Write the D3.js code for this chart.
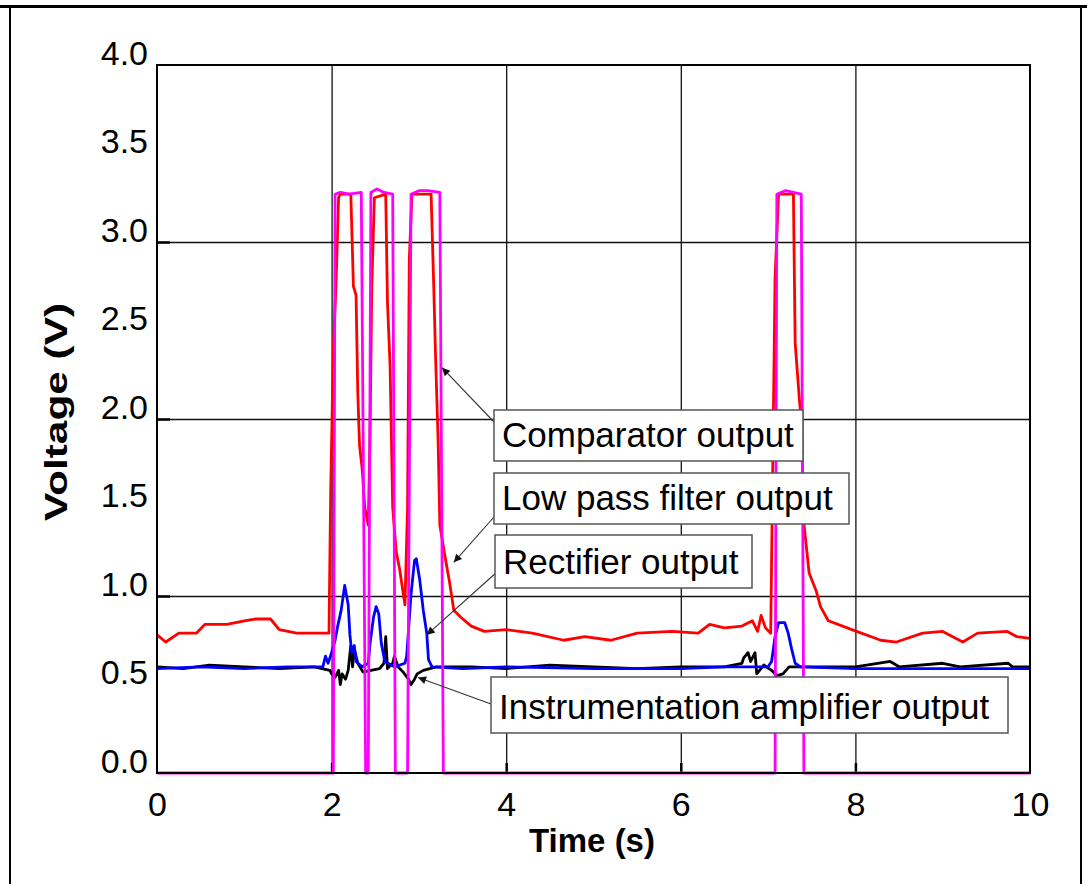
<!DOCTYPE html>
<html>
<head>
<meta charset="utf-8">
<script src="https://cdn.jsdelivr.net/npm/d3@7"></script>
<style>
  body { margin: 0; background: #fff; }
  svg { display: block; font-family: "Liberation Sans", Arial, sans-serif; }
</style>
</head>
<body>
<svg id="chart" width="1087" height="884"></svg>
<script>
// values: [time (s), voltage (V)]
var comparator = [[0,0],[2.02,0],[2.04,3.27],[2.1,3.28],[2.2,3.27],[2.34,3.28],[2.39,0],[2.42,0],
    [2.45,3.28],[2.52,3.30],[2.6,3.28],[2.70,3.27],[2.73,0],[2.87,0],[2.91,3.27],[3.0,3.29],
    [3.1,3.29],[3.24,3.28],[3.28,0],[7.08,0],[7.10,3.27],[7.2,3.29],[7.38,3.27],[7.41,0],[10,0]];

var lowPass = [[0,0.78],[0.1,0.74],[0.25,0.79],[0.45,0.79],[0.55,0.84],[0.8,0.84],[1.0,0.86],
    [1.12,0.87],[1.3,0.87],[1.4,0.81],[1.6,0.79],[1.97,0.79],[1.99,1.6],[2.02,2.4],[2.05,2.75],
    [2.08,3.25],[2.1,3.27],[2.22,3.27],[2.25,2.75],[2.28,2.7],[2.30,2.15],[2.32,1.85],[2.35,1.72],
    [2.38,1.5],[2.42,1.40],[2.44,1.9],[2.46,2.75],[2.49,3.25],[2.62,3.27],[2.64,2.66],[2.67,2.3],
    [2.70,1.5],[2.74,1.25],[2.78,1.15],[2.84,0.95],[2.87,1.5],[2.89,2.9],[2.92,3.27],[3.14,3.27],
    [3.17,2.75],[3.19,2.37],[3.22,1.88],[3.24,1.4],[3.30,1.22],[3.35,1.08],[3.40,0.92],[3.48,0.88],
    [3.6,0.83],[3.75,0.80],[4.0,0.81],[4.3,0.79],[4.66,0.75],[4.9,0.77],[5.2,0.75],[5.5,0.79],
    [5.9,0.80],[6.2,0.79],[6.33,0.84],[6.5,0.82],[6.7,0.83],[6.82,0.86],[6.88,0.80],[6.92,0.89],
    [6.97,0.82],[7.03,0.79],[7.05,1.6],[7.08,2.8],[7.12,3.27],[7.29,3.27],[7.31,2.43],[7.36,2.1],
    [7.38,2.0],[7.41,1.41],[7.47,1.13],[7.55,1.03],[7.6,0.94],[7.69,0.86],[7.96,0.81],[8.29,0.75],
    [8.47,0.74],[8.77,0.79],[9.0,0.80],[9.23,0.74],[9.4,0.79],[9.74,0.80],[9.85,0.77],[10,0.76]];

var rectifier = [[0,0.59],[0.5,0.60],[1.0,0.59],[1.5,0.60],[1.9,0.60],[1.93,0.66],[1.96,0.62],
    [2.0,0.68],[2.04,0.75],[2.07,0.83],[2.11,0.92],[2.15,1.06],[2.19,0.95],[2.21,0.78],[2.23,0.68],
    [2.26,0.72],[2.28,0.63],[2.35,0.60],[2.42,0.62],[2.44,0.73],[2.48,0.88],[2.51,0.94],[2.54,0.90],
    [2.57,0.73],[2.61,0.63],[2.72,0.60],[2.84,0.62],[2.86,0.66],[2.91,1.01],[2.95,1.20],[2.97,1.21],
    [3.01,1.09],[3.05,0.92],[3.09,0.79],[3.11,0.64],[3.15,0.60],[3.5,0.59],[4,0.60],[5,0.59],
    [6,0.59],[6.5,0.60],[7.0,0.60],[7.04,0.63],[7.08,0.77],[7.12,0.85],[7.19,0.85],[7.23,0.79],
    [7.27,0.70],[7.31,0.62],[7.37,0.60],[8,0.59],[9,0.59],[10,0.59]];

var instAmp = [[0,0.60],[0.3,0.59],[0.6,0.61],[1.0,0.60],[1.4,0.59],[1.8,0.60],[1.98,0.58],
    [2.0,0.56],[2.04,0.54],[2.08,0.58],[2.1,0.50],[2.12,0.56],[2.16,0.53],[2.19,0.58],[2.22,0.72],
    [2.24,0.60],[2.26,0.70],[2.3,0.62],[2.36,0.57],[2.45,0.58],[2.55,0.59],[2.60,0.62],[2.62,0.77],
    [2.64,0.59],[2.7,0.62],[2.72,0.66],[2.76,0.60],[2.82,0.57],[2.88,0.53],[2.91,0.50],[2.95,0.53],
    [2.98,0.56],[3.05,0.58],[3.2,0.60],[3.6,0.60],[4,0.59],[4.5,0.61],[5,0.60],[5.5,0.59],[6,0.60],
    [6.5,0.60],[6.7,0.62],[6.72,0.65],[6.77,0.68],[6.8,0.63],[6.85,0.68],[6.87,0.56],[6.95,0.61],
    [7.04,0.58],[7.1,0.55],[7.17,0.56],[7.24,0.60],[7.6,0.60],[8.0,0.60],[8.4,0.63],[8.5,0.60],
    [9.0,0.62],[9.2,0.60],[9.75,0.62],[9.8,0.60],[10,0.60]];

var xTicks = [0, 2, 4, 6, 8, 10];
var yTicks = [0, 0.5, 1, 1.5, 2, 2.5, 3, 3.5, 4];
var gridY = [1, 2, 3];
var gridX = [2, 4, 6, 8];

// callout text and the point each arrow points at, [time, voltage]
var labelTexts = ["Comparator output", "Low pass filter output", "Rectifier output", "Instrumentation amplifier output"];
var labelTargets = [[3.265, 2.29], [3.40, 1.19], [3.09, 0.78], [2.99, 0.54]];

var svg = d3.select("#chart");

var margin = {top: 65, left: 157, right: 57, bottom: 111};
var width = 1087 - margin.left - margin.right;
var height = 884 - margin.top - margin.bottom;

// page frame
svg.append("rect")
    .attr("x", 10).attr("y", 7)
    .attr("width", 1071).attr("height", 900)
    .attr("fill", "none").attr("stroke", "#000").attr("stroke-width", 2);
svg.append("line")
    .attr("x1", 0).attr("x2", 1087).attr("y1", 6.5).attr("y2", 6.5)
    .attr("stroke", "#000").attr("stroke-width", 3);

var g = svg.append("g").attr("transform", `translate(${margin.left},${margin.top})`);

var x = d3.scaleLinear().domain([0, 10]).range([0, width]);
var y = d3.scaleLinear().domain([0, 4]).range([height, 0]);

// grid
g.append("g")
    .attr("class", "grid")
    .call(d3.axisLeft(y).tickValues(gridY).tickSize(-width).tickFormat(""))
    .call(function(s) { s.select(".domain").remove(); })
    .selectAll("line").attr("stroke", "#111").attr("stroke-width", 1.3);
g.append("g")
    .attr("class", "grid")
    .attr("transform", `translate(0,${height})`)
    .call(d3.axisBottom(x).tickValues(gridX).tickSize(height).tickFormat(""))
    .call(function(s) { s.select(".domain").remove(); })
    .selectAll("line").attr("transform", `translate(0,${-height})`)
    .attr("stroke", "#111").attr("stroke-width", 1.3);

// inward ticks
g.append("g")
    .call(d3.axisRight(y).tickValues(gridY).tickSize(13).tickFormat(""))
    .call(function(s) { s.select(".domain").remove(); })
    .selectAll("line").attr("stroke", "#000").attr("stroke-width", 2.5);
g.append("g")
    .attr("transform", `translate(0,${height})`)
    .call(d3.axisTop(x).tickValues(gridX).tickSize(10).tickFormat(""))
    .call(function(s) { s.select(".domain").remove(); })
    .selectAll("line").attr("stroke", "#000").attr("stroke-width", 2.5);

// tick labels
var yAxis = g.append("g")
    .call(d3.axisLeft(y).tickValues(yTicks).tickSize(0).tickPadding(9).tickFormat(d3.format(".1f")));
yAxis.select(".domain").remove();
yAxis.selectAll("text")
    .attr("dy", "-1")
    .style("font-size", "34px")
    .attr("fill", "#000");

var xAxis = g.append("g")
    .attr("transform", `translate(0,${height})`)
    .call(d3.axisBottom(x).tickValues(xTicks).tickSize(0).tickFormat(d3.format("d")));
xAxis.select(".domain").remove();
xAxis.selectAll("text")
    .attr("y", 43).attr("dy", 0)
    .style("font-size", "34px")
    .attr("fill", "#000");

// series
var line = d3.line()
    .x(function(d) { return x(d[0]); })
    .y(function(d) { return y(d[1]); });

var series = [
    {data: instAmp, color: "#000000"},
    {data: rectifier, color: "#0000ff"},
    {data: lowPass, color: "#ff0000"},
    {data: comparator, color: "#ff00ff"}
];

g.selectAll(".series")
    .data(series)
    .enter()
    .append("path")
    .attr("class", "series")
    .attr("d", function(d) { return line(d.data); })
    .attr("fill", "none")
    .attr("stroke", function(d) { return d.color; })
    .attr("stroke-width", 2.8)
    .attr("stroke-linejoin", "round");

// plot frame
g.append("rect")
    .attr("width", width).attr("height", height)
    .attr("fill", "none").attr("stroke", "#000").attr("stroke-width", 2);

// callouts
var boxes = [
    {x: 494, y: 410, w: 309, h: 51, from: [494, 422]},
    {x: 494, y: 473, w: 355, h: 51, from: [494, 517]},
    {x: 495, y: 535, w: 257, h: 53, from: [497, 572]},
    {x: 491, y: 677, w: 517, h: 56, from: [491, 704]}
];

svg.append("defs").append("marker")
    .attr("id", "arrow")
    .attr("viewBox", "0 0 10 10")
    .attr("refX", 10).attr("refY", 5)
    .attr("markerWidth", 12).attr("markerHeight", 8)
    .attr("markerUnits", "userSpaceOnUse")
    .attr("orient", "auto")
    .append("path")
    .attr("d", "M0,0L10,5L0,10z")
    .attr("fill", "#111");

var callout = svg.selectAll(".callout")
    .data(boxes)
    .enter()
    .append("g")
    .attr("class", "callout");

callout.append("line")
    .attr("x1", function(d) { return d.from[0]; })
    .attr("y1", function(d) { return d.from[1]; })
    .attr("x2", function(d, i) { return margin.left + x(labelTargets[i][0]); })
    .attr("y2", function(d, i) { return margin.top + y(labelTargets[i][1]); })
    .attr("stroke", "#333")
    .attr("stroke-width", 1.1)
    .attr("marker-end", "url(#arrow)");

callout.append("rect")
    .attr("x", function(d) { return d.x; })
    .attr("y", function(d) { return d.y; })
    .attr("width", function(d) { return d.w; })
    .attr("height", function(d) { return d.h; })
    .attr("fill", "#fff")
    .attr("stroke", "#555")
    .attr("stroke-width", 1.5);

callout.append("text")
    .attr("x", function(d) { return d.x + 8; })
    .attr("y", function(d) { return d.y + d.h - 14; })
    .text(function(d, i) { return labelTexts[i]; })
    .style("font-size", "35px")
    .attr("fill", "#000");

// axis titles
svg.append("text")
    .attr("text-anchor", "middle")
    .attr("x", 592)
    .attr("y", 852)
    .text("Time (s)")
    .style("font-size", "33px")
    .style("font-weight", "bold");

svg.append("text")
    .attr("text-anchor", "middle")
    .attr("transform", "translate(67,412) rotate(-90)")
    .attr("textLength", 218)
    .attr("lengthAdjust", "spacingAndGlyphs")
    .text("Voltage (V)")
    .style("font-size", "32px")
    .style("font-weight", "bold");
</script>
</body>
</html>
